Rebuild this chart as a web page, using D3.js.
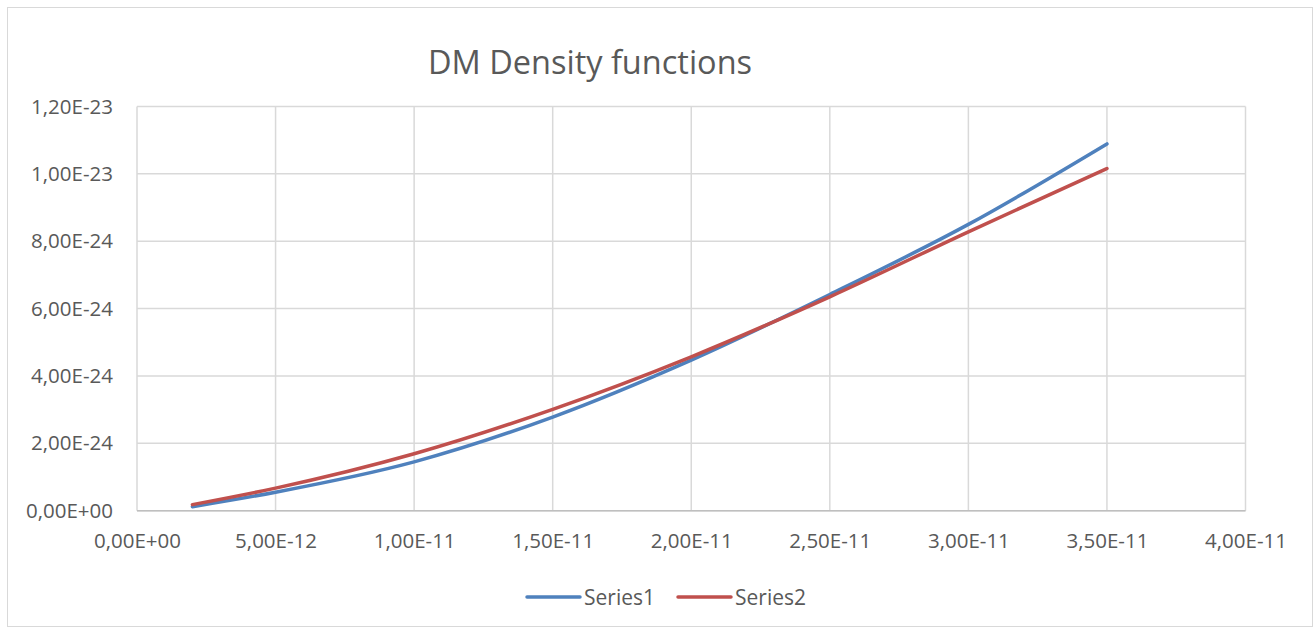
<!DOCTYPE html>
<html>
<head>
<meta charset="utf-8">
<script src="https://cdn.jsdelivr.net/npm/d3@7"></script>
<style>
  body { margin: 0; background: #fff; }
  svg { display: block; font-family: "Open Sans", "Liberation Sans", sans-serif; }
</style>
</head>
<body>
<div id="chart"></div>
<script>
// 1: DATA
const xValues = [2e-12, 5e-12, 1e-11, 1.5e-11, 2e-11, 2.5e-11, 3e-11, 3.5e-11];
const series1 = [0.12e-24, 0.55e-24, 1.45e-24, 2.78e-24, 4.47e-24, 6.42e-24, 8.50e-24, 10.89e-24];
const series2 = [0.18e-24, 0.67e-24, 1.69e-24, 3.01e-24, 4.57e-24, 6.35e-24, 8.28e-24, 10.16e-24];
const xTicks = [0, 5e-12, 1e-11, 1.5e-11, 2e-11, 2.5e-11, 3e-11, 3.5e-11, 4e-11];
const yTicks = [0, 2e-24, 4e-24, 6e-24, 8e-24, 1e-23, 1.2e-23];
const seriesNames = ["Series1", "Series2"];
const seriesColors = ["#4F81BD", "#C0504D"];

// 2: SETUP
const W = 1314, H = 628;
const plot = { left: 137, top: 106.5, right: 1245.5, bottom: 510.7 };

const svg = d3.select("#chart")
    .append("svg")
    .attr("width", W)
    .attr("height", H);

svg.append("rect")
    .attr("x", 7.5).attr("y", 7.5)
    .attr("width", W - 9).attr("height", H - 9)
    .attr("fill", "#fff")
    .attr("stroke", "#d9d9d9");

const xScale = d3.scaleLinear().domain([0, 4e-11]).range([plot.left, plot.right]);
const yScale = d3.scaleLinear().domain([0, 1.2e-23]).range([plot.bottom, plot.top]);

// excel style labels: 1,20E-23
const sci = v => {
    if (v === 0) return "0,00E+00";
    const s = v.toExponential(2).replace(".", ",");
    const [m, e] = s.split("e");
    const n = +e;
    return m + "E" + (n < 0 ? "-" : "+") + String(Math.abs(n)).padStart(2, "0");
};

// 3: GRIDLINES
svg.append("g")
    .selectAll("line")
    .data(yTicks)
    .join("line")
    .attr("x1", plot.left).attr("x2", plot.right)
    .attr("y1", d => yScale(d)).attr("y2", d => yScale(d))
    .attr("stroke", "#d9d9d9")
    .attr("stroke-width", 1.5);

svg.append("g")
    .selectAll("line")
    .data(xTicks)
    .join("line")
    .attr("x1", d => xScale(d)).attr("x2", d => xScale(d))
    .attr("y1", plot.top).attr("y2", plot.bottom)
    .attr("stroke", "#d9d9d9")
    .attr("stroke-width", 1.5);

// bottom axis line
svg.append("line")
    .attr("x1", plot.left).attr("x2", plot.right)
    .attr("y1", plot.bottom).attr("y2", plot.bottom)
    .attr("stroke", "#bfbfbf")
    .attr("stroke-width", 1.5);

// 4: AXES (labels only)
const xAxis = svg.append("g")
    .attr("transform", `translate(0,${plot.bottom})`)
    .call(d3.axisBottom(xScale).tickValues(xTicks).tickFormat(sci).tickSize(0).tickPadding(23));
xAxis.select(".domain").remove();
xAxis.selectAll("text")
    .attr("fill", "#595959")
    .style("font-size", "20.5px")
    .style("font-family", "'Open Sans', sans-serif");

const yAxis = svg.append("g")
    .attr("transform", `translate(${plot.left},0)`)
    .call(d3.axisLeft(yScale).tickValues(yTicks).tickFormat(sci).tickSize(0).tickPadding(24));
yAxis.select(".domain").remove();
yAxis.selectAll("text")
    .attr("fill", "#595959")
    .style("font-size", "20.5px")
    .style("font-family", "'Open Sans', sans-serif");

// 5: LINES
const line = d3.line()
    .x(d => xScale(d[0]))
    .y(d => yScale(d[1]))
    .curve(d3.curveMonotoneX);

[series1, series2].forEach((vals, i) => {
    svg.append("path")
        .datum(xValues.map((x, j) => [x, vals[j]]))
        .attr("fill", "none")
        .attr("stroke", seriesColors[i])
        .attr("stroke-width", 3.5)
        .attr("stroke-linecap", "round")
        .attr("d", line);
});

// 6: TITLE
svg.append("text")
    .attr("x", 590)
    .attr("y", 74)
    .attr("text-anchor", "middle")
    .attr("fill", "#595959")
    .style("font-size", "32.5px")
    .text("DM Density functions");

// 7: LEGEND
const legendX = [527, 678];
const legend = svg.append("g");
seriesNames.forEach((name, i) => {
    legend.append("line")
        .attr("x1", legendX[i]).attr("x2", legendX[i] + 53)
        .attr("y1", 597).attr("y2", 597)
        .attr("stroke", seriesColors[i])
        .attr("stroke-width", 3.5)
        .attr("stroke-linecap", "round");
    legend.append("text")
        .attr("x", legendX[i] + 57)
        .attr("y", 604.5)
        .attr("fill", "#595959")
        .style("font-size", "21px")
        .text(name);
});
</script>
</body>
</html>
